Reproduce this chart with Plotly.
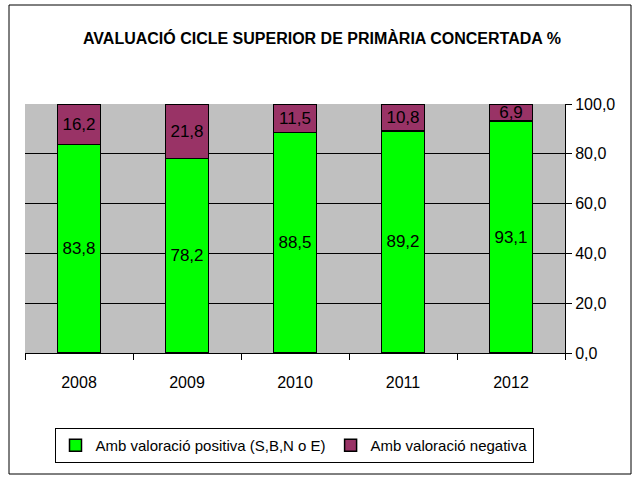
import plotly.graph_objects as go

years = ["2008", "2009", "2010", "2011", "2012"]
positiva = [83.8, 78.2, 88.5, 89.2, 93.1]
negativa = [16.2, 21.8, 11.5, 10.8, 6.9]
series_names = ["Amb valoració positiva (S,B,N o E)", "Amb valoració negativa"]
title_text = "AVALUACIÓ CICLE SUPERIOR DE PRIMÀRIA CONCERTADA %"

FONT = "Liberation Sans, Arial"

W, H = 635, 478
L, R, T, B = 25, 70, 104, 125
pw, ph = W - L - R, H - T - B

fig = go.Figure()
for vals, name, col in [(positiva, series_names[0], "#00FF00"),
                        (negativa, series_names[1], "#993366")]:
    fig.add_trace(go.Bar(x=years, y=vals, name=name,
                         marker=dict(color=col, line=dict(color="black", width=1.5)),
                         texttemplate="%{y:.1f}", textposition="inside",
                         insidetextanchor="middle", constraintext="none",
                         textfont=dict(family=FONT, size=17, color="black")))

def px_x(p):
    return (p - L) / pw

def px_y(p):
    return (H - B - p) / ph

fig.update_layout(
    width=W, height=H,
    barmode="stack", bargap=0.6,
    separators=",.",
    paper_bgcolor="white", plot_bgcolor="#C0C0C0",
    margin=dict(l=L, r=R, t=T, b=B),
    font=dict(family=FONT, size=16, color="black"),
    title=dict(text="<b>" + title_text + "</b>", x=0.507, xanchor="center",
               y=1 - 38 / H, yanchor="middle",
               font=dict(family=FONT, size=16, color="black")),
    xaxis=dict(type="category", showline=True, linecolor="black", linewidth=1,
               ticks="outside", tickson="boundaries", ticklen=6, tickcolor="black",
               showgrid=False, tickfont=dict(size=16), ticklabelstandoff=15),
    yaxis=dict(side="right", range=[0, 100], dtick=20, tickformat=".1f",
               showline=True, linecolor="black", linewidth=1,
               ticks="outside", ticklen=6, tickcolor="black",
               showgrid=True, gridcolor="black", gridwidth=1,
               zeroline=False, tickfont=dict(size=16)),
    showlegend=True,
    legend=dict(orientation="h", x=px_x(294), xanchor="center", y=px_y(428), yanchor="top",
                bordercolor="black", borderwidth=1, bgcolor="white",
                font=dict(size=15), itemwidth=30, traceorder="normal"),
    shapes=[dict(type="rect", xref="paper", yref="paper",
                 x0=px_x(9), x1=px_x(631), y0=px_y(474), y1=px_y(5),
                 line=dict(color="black", width=1), fillcolor="rgba(0,0,0,0)", layer="below")],
)

fig.write_html("out.html", config={"displayModeBar": False},
               post_script="document.body.style.margin='0';")
